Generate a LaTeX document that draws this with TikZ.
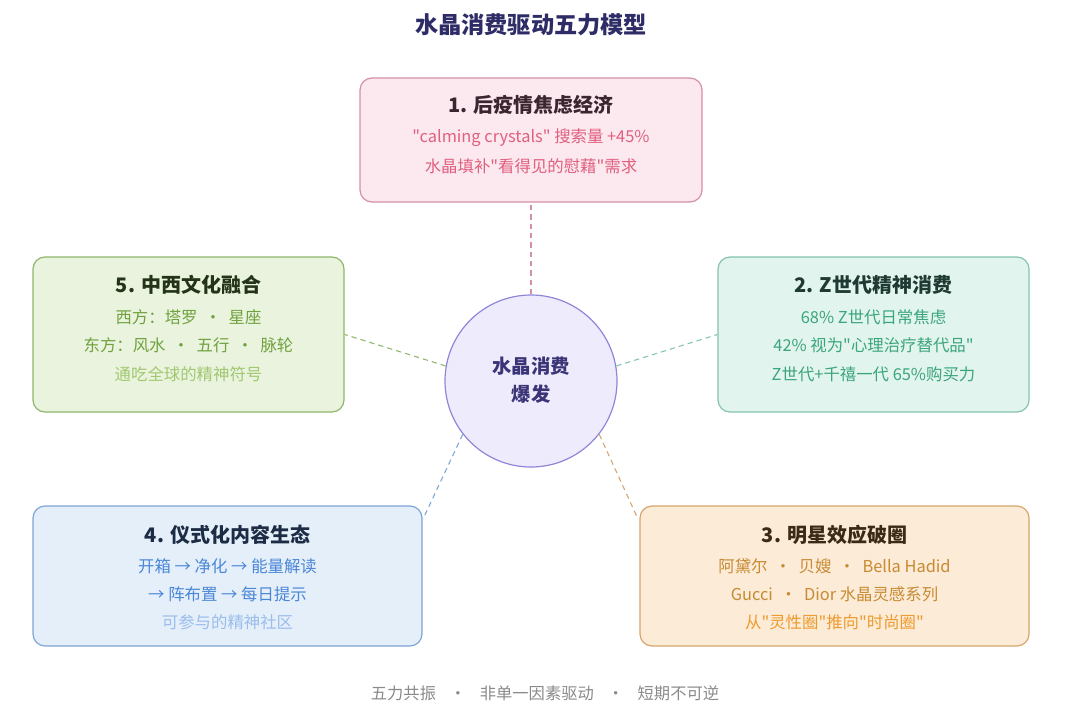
\documentclass[tikz,border=0pt]{standalone}
\usepackage{fontspec}
\setmainfont{Noto Sans CJK SC}
\newfontfamily\plainsans{Noto Sans CJK SC}
\usepackage{tikz}

\definecolor{titlecol}{HTML}{2E2C66}
\definecolor{corefill}{HTML}{EDEBFC}
\definecolor{coreline}{HTML}{8E87D9}
\definecolor{coretext}{HTML}{3B3577}
\definecolor{pinkfill}{HTML}{FCE8EF}
\definecolor{pinkline}{HTML}{D690A5}
\definecolor{pinkhead}{HTML}{3A2530}
\definecolor{pinktext}{HTML}{E0607F}
\definecolor{tealfill}{HTML}{E1F4ED}
\definecolor{tealline}{HTML}{86C3AB}
\definecolor{tealhead}{HTML}{1E3A33}
\definecolor{tealtext}{HTML}{3BA57D}
\definecolor{ambfill}{HTML}{FBEBD7}
\definecolor{ambline}{HTML}{D4A56C}
\definecolor{ambhead}{HTML}{3B2A16}
\definecolor{ambtext}{HTML}{C88A33}
\definecolor{ambtextb}{HTML}{EE9B2E}
\definecolor{bluefill}{HTML}{E4EFFA}
\definecolor{blueline}{HTML}{7EA5D4}
\definecolor{bluehead}{HTML}{1D2C45}
\definecolor{bluetext}{HTML}{4A86D6}
\definecolor{bluetextb}{HTML}{9ABDEB}
\definecolor{grnfill}{HTML}{EAF3DD}
\definecolor{grnline}{HTML}{8FB66C}
\definecolor{grnhead}{HTML}{243418}
\definecolor{grntext}{HTML}{6FA23E}
\definecolor{grntextb}{HTML}{A0C870}
\definecolor{footcol}{HTML}{8A8A8A}

\tikzset{
  forcebox/.style={draw, rounded corners=9pt, line width=0.9pt, inner sep=0pt},
  headtxt/.style={font=\plainsans\fontsize{15}{18}\selectfont\bfseries},
  bodytxt/.style={font=\plainsans\fontsize{12.3}{15}\selectfont},
  link/.style={line width=0.8pt, dash pattern=on 4pt off 3pt},
}

\begin{document}
\begin{tikzpicture}[x=0.75pt,y=-0.75pt]
\useasboundingbox (0,0) rectangle (1080,714);

\node[font=\plainsans\fontsize{17.4}{20}\selectfont\bfseries, text=titlecol] (title) at (531,25) {水晶消费驱动五力模型};

% centre
\node[circle, draw=coreline, fill=corefill, line width=0.9pt, minimum size=129pt, inner sep=0pt] (core) at (531,381) {};
\node[font=\plainsans\fontsize{14.5}{17}\selectfont\bfseries, text=coretext] (coreA) at (531,366) {水晶消费};
\node[font=\plainsans\fontsize{14.5}{17}\selectfont\bfseries, text=coretext] (coreB) at (531,394) {爆发};

% 1
\node[forcebox, draw=pinkline, fill=pinkfill, minimum width=256.5pt, minimum height=93pt] (box1) at (531,140) {};
\node[headtxt, text=pinkhead] (h1) at (531,105) {1. 后疫情焦虑经济};
\node[bodytxt, text=pinktext] (t1a) at (531,138) {"calming crystals" 搜索量 +45\%};
\node[bodytxt, text=pinktext] (t1b) at (531,166) {水晶填补"看得见的慰藉"需求};

% 2
\node[forcebox, draw=tealline, fill=tealfill, minimum width=233.25pt, minimum height=116.25pt] (box2) at (873.5,334.5) {};
\node[headtxt, text=tealhead] (h2) at (873.5,285) {2. Z世代精神消费};
\node[bodytxt, text=tealtext] (t2a) at (873.5,317) {68\% Z世代日常焦虑};
\node[bodytxt, text=tealtext] (t2b) at (873.5,345) {42\% 视为"心理治疗替代品"};
\node[bodytxt, text=tealtext] (t2c) at (873.5,374) {Z世代+千禧一代 65\%购买力};

% 3
\node[forcebox, draw=ambline, fill=ambfill, minimum width=291.75pt, minimum height=105pt] (box3) at (834.5,576) {};
\node[headtxt, text=ambhead] (h3) at (834.5,535) {3. 明星效应破圈};
\node[bodytxt, text=ambtext] (t3a) at (834.5,566) {阿黛尔 \ · \ 贝嫂 \ · \ Bella Hadid};
\node[bodytxt, text=ambtext] (t3b) at (834.5,594) {Gucci \ · \ Dior 水晶灵感系列};
\node[bodytxt, text=ambtextb] (t3c) at (834.5,622) {从"灵性圈"推向"时尚圈"};

% 4
\node[forcebox, draw=blueline, fill=bluefill, minimum width=291.75pt, minimum height=105pt] (box4) at (227.5,576) {};
\node[headtxt, text=bluehead] (h4) at (227.5,535) {4. 仪式化内容生态};
\node[bodytxt, text=bluetext] (t4a) at (227.5,566) {开箱 → 净化 → 能量解读};
\node[bodytxt, text=bluetext] (t4b) at (227.5,594) {→ 阵布置 → 每日提示};
\node[bodytxt, text=bluetextb] (t4c) at (227.5,622) {可参与的精神社区};

% 5
\node[forcebox, draw=grnline, fill=grnfill, minimum width=233.25pt, minimum height=116.25pt] (box5) at (188.5,334.5) {};
\node[headtxt, text=grnhead] (h5) at (188.5,285) {5. 中西文化融合};
\node[bodytxt, text=grntext] (t5a) at (188.5,317) {西方：塔罗 \ · \ 星座};
\node[bodytxt, text=grntext] (t5b) at (188.5,345) {东方：风水 \ · \ 五行 \ · \ 脉轮};
\node[bodytxt, text=grntextb] (t5c) at (188.5,374) {通吃全球的精神符号};

% links
\coordinate (end4) at (423,519);
\coordinate (end3) at (638,519);
\draw[link, draw=pinkline] (core.90) -- (box1.south);
\draw[link, draw=tealline] (core.10) -- (box2.west);
\draw[link, draw=ambline] (core.322) -- (end3);
\draw[link, draw=blueline] (core.218) -- (end4);
\draw[link, draw=grnline] (core.170) -- (box5.east);

\node[font=\plainsans\fontsize{12.2}{14}\selectfont, text=footcol] (foot) at (545,693) {五力共振\hspace{0.85em}·\hspace{0.85em}非单一因素驱动\hspace{0.85em}·\hspace{0.85em}短期不可逆};
\end{tikzpicture}
\end{document}
